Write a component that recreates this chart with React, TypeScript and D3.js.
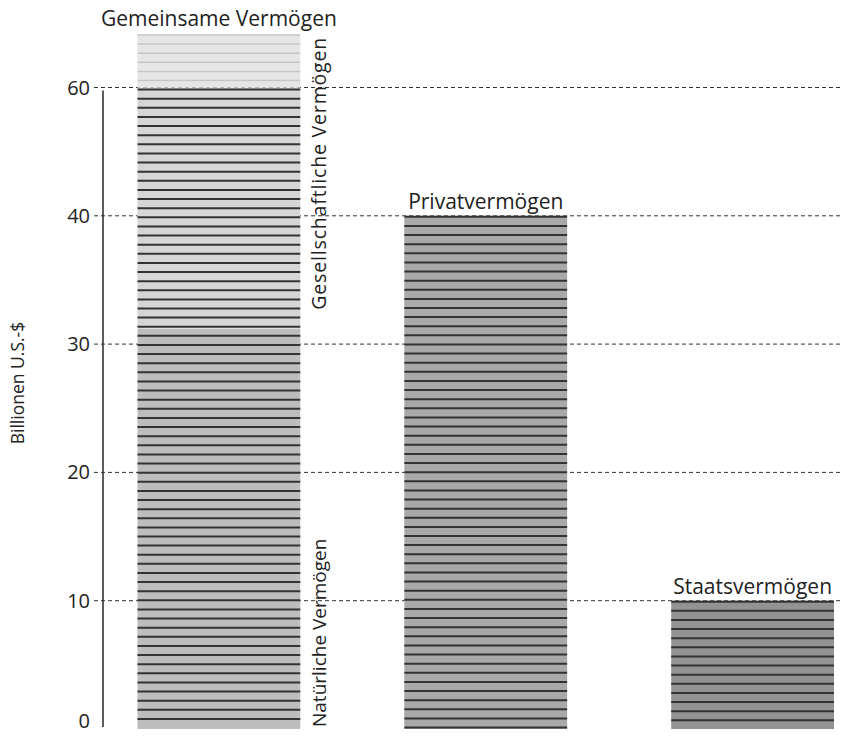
import * as d3 from "d3";

const categories = ["Gemeinsame Vermögen", "Privatvermögen", "Staatsvermögen"];
const totals = [68.2, 40, 10];
const barFills = ["#bdbdbd", "#a9a9a9", "#939393"];

// split of the first bar
const commonSegmentNames = ["Natürliche Vermögen", "Gesellschaftliche Vermögen", ""];
const commonSegmentTops = [31.2, 60, 68.2];
const commonSegmentFills = ["#bdbdbd", "#d6d6d6", "#e6e6e6"];

const yTicks = [0, 10, 20, 30, 40, 60];
const yLabel = "Billionen U.S.-$";

const W = 868, H = 736;
const font = "'Open Sans', sans-serif";

export default function App() {
  // the axis is evenly spaced per tick (40 -> 60 takes the same room as 30 -> 40)
  const step = 128.3;
  const y = d3.scaleLinear().domain(yTicks).range(yTicks.map((_, i) => 729 - i * step));
  const x = d3.scaleBand().domain(categories).range([137.5, 834]).paddingInner(0.39).paddingOuter(0);
  const bw = x.bandwidth();

  const stripes = (top: number, bottom: number) => d3.range(top, bottom - 1, 9.12);

  return (
    <svg width={W} height={H} style={{ position: "absolute", left: 0, top: 0, background: "#fff" }}>
      {/* grid */}
      {yTicks.filter((t) => t > 0).map((t) => (
        <line key={t} x1={94} x2={840} y1={y(t)} y2={y(t)} stroke="#333" strokeWidth={1} strokeDasharray="4,3" />
      ))}
      {yTicks.map((t) => (
        <text key={t} x={90} y={t === 0 ? y(t) - 8 : y(t)} dy="0.35em" textAnchor="end" fontFamily={font} fontSize={20} fill="#222">
          {t}
        </text>
      ))}
      <line x1={103} x2={103} y1={y(60) + 3} y2={y(0) - 2} stroke="#333" strokeWidth={1.6} />
      <text transform={`translate(24,${383}) rotate(-90)`} textAnchor="middle" fontFamily={font} fontSize={17.5} fill="#222">
        {yLabel}
      </text>

      {/* bars */}
      {categories.map((c, i) => {
        const x0 = x(c)!;
        const top = y(totals[i]);
        const bottom = y(0);
        if (i === 0) {
          const lows = [0, ...commonSegmentTops.slice(0, -1)];
          return (
            <g key={c}>
              {commonSegmentTops.map((t, j) => (
                <rect key={j} x={x0} width={bw} y={y(t)} height={y(lows[j]) - y(t)} fill={commonSegmentFills[j]} />
              ))}
              {stripes(top, bottom).map((s) => (
                <line key={s} x1={x0} x2={x0 + bw} y1={s} y2={s}
                  stroke={s < y(60) - 2 ? "#c6c6c6" : "#333"} strokeWidth={s < y(60) - 2 ? 1.5 : 2} />
              ))}
              <text x={x0 + bw / 2} y={top - 9} textAnchor="middle" fontFamily={font} fontSize={21} fill="#222">{c}</text>
              <text transform={`translate(${x0 + bw + 26},${bottom - 2}) rotate(-90)`} fontFamily={font} fontSize={19} fill="#222">
                {commonSegmentNames[0]}
              </text>
              <text transform={`translate(${x0 + bw + 26},${y(commonSegmentTops[0]) - 19}) rotate(-90)`}
                textLength={272} lengthAdjust="spacing" fontFamily={font} fontSize={19.5} fill="#222">
                {commonSegmentNames[1]}
              </text>
            </g>
          );
        }
        return (
          <g key={c}>
            <rect x={x0} width={bw} y={top} height={bottom - top} fill={barFills[i]} />
            {stripes(top + 1, bottom).map((s) => (
              <line key={s} x1={x0} x2={x0 + bw} y1={s} y2={s} stroke="#333" strokeWidth={2} />
            ))}
            <text x={x0 + bw / 2} y={top - 7} textAnchor="middle" fontFamily={font} fontSize={21} fill="#222">{c}</text>
          </g>
        );
      })}
    </svg>
  );
}
